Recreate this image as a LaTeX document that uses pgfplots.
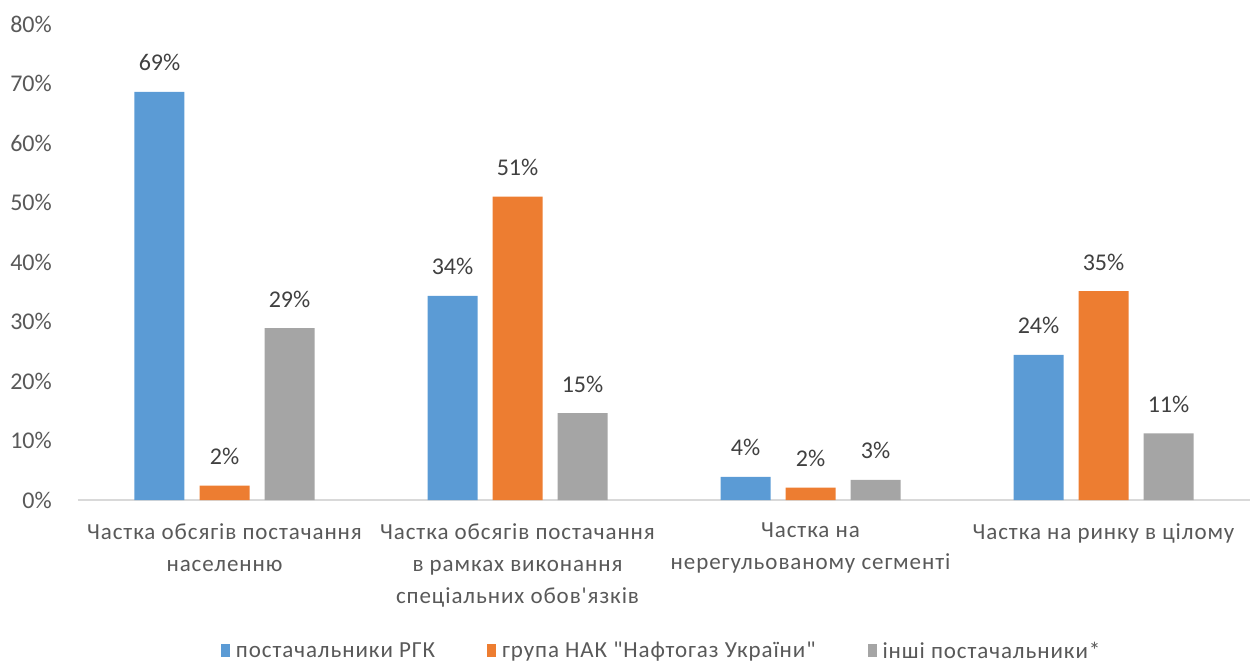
\documentclass[border=0pt]{standalone}
\usepackage{fontspec}
\setmainfont{Carlito}[Ligatures=TeXOff]
\newfontfamily\spaced{Carlito}[Ligatures=TeXOff, LetterSpace=4]
\usepackage{pgfplots}
\pgfplotsset{compat=1.18}
\definecolor{cblue}{HTML}{5B9BD5}
\definecolor{corange}{HTML}{ED7D31}
\definecolor{cgray}{HTML}{A5A5A5}
\definecolor{ctext}{HTML}{595959}
\definecolor{clabel}{HTML}{404040}
\definecolor{caxis}{HTML}{D9D9D9}
\pgfplotstableread{
x a
0 68.6
1 34.3
2 3.9
3 24.4
}\blue
\pgfplotstableread{
x a
0 2.4
1 51.0
2 2.1
3 35.1
}\orange
\pgfplotstableread{
x a
0 28.9
1 14.6
2 3.4
3 11.2
}\gray
\begin{document}
\begin{tikzpicture}[x=1pt,y=1pt]
\useasboundingbox (-78,-164) rectangle (1173,500);
\begin{axis}[
  at={(0,0)}, anchor=south west,
  scale only axis, width=1172pt, height=476pt,
  ymin=0, ymax=80, ytick={0,10,...,80},
  yticklabel={\pgfmathprintnumber{\tick}\%},
  xmin=-0.5, xmax=3.5, xtick={0,1,2,3},
  xticklabels={{Частка обсягів постачання\\населенню},
               {Частка обсягів постачання\\в рамках виконання\\спеціальних обов'язків},
               {Частка на\\нерегульованому сегменті},
               {Частка на ринку в цілому}},
  axis x line*=bottom, axis y line*=left,
  y axis line style={draw=none},
  x axis line style={draw=caxis, line width=1.5pt},
  major tick length=0pt,
  tick style={draw=none},
  tick label style={font=\fontsize{24}{31}\selectfont, color=ctext},
  /pgf/number format/assume math mode=true,
  yticklabel style={inner sep=0pt, xshift=-26pt},
  xticklabel style={align=center, inner sep=0pt, anchor=north, yshift=-23pt,
    font=\spaced\fontsize{23}{32}\selectfont},
  ybar, bar width=50pt,
  nodes near coords={\pgfmathprintnumber[fixed,precision=0]{\pgfplotspointmeta}\%},
  point meta=y,
  every node near coord/.append style={font=\fontsize{24}{26}\selectfont, color=clabel, anchor=base, inner sep=0pt, yshift=21pt},
  legend columns=3,
  legend style={at={(axis description cs:0.498,-0.317)}, anchor=center, draw=none,
    font=\spaced\fontsize{23}{26}\selectfont, text=ctext,
    /tikz/every even column/.append style={column sep=50pt},
    /tikz/every odd column/.append style={column sep=4pt}},
  legend image code/.code={\fill[#1] (0pt,-6pt) rectangle (9pt,7pt);},
]
\addplot[fill=cblue, draw=none, bar shift=-65pt] table[x=x,y=a] {\blue};
\addplot[fill=corange, draw=none, bar shift=0pt] table[x=x,y=a] {\orange};
\addplot[fill=cgray, draw=none, bar shift=65pt] table[x=x,y=a] {\gray};
\legend{постачальники РГК, група НАК "Нафтогаз України", інші постачальники*}
\end{axis}
\end{tikzpicture}
\end{document}
